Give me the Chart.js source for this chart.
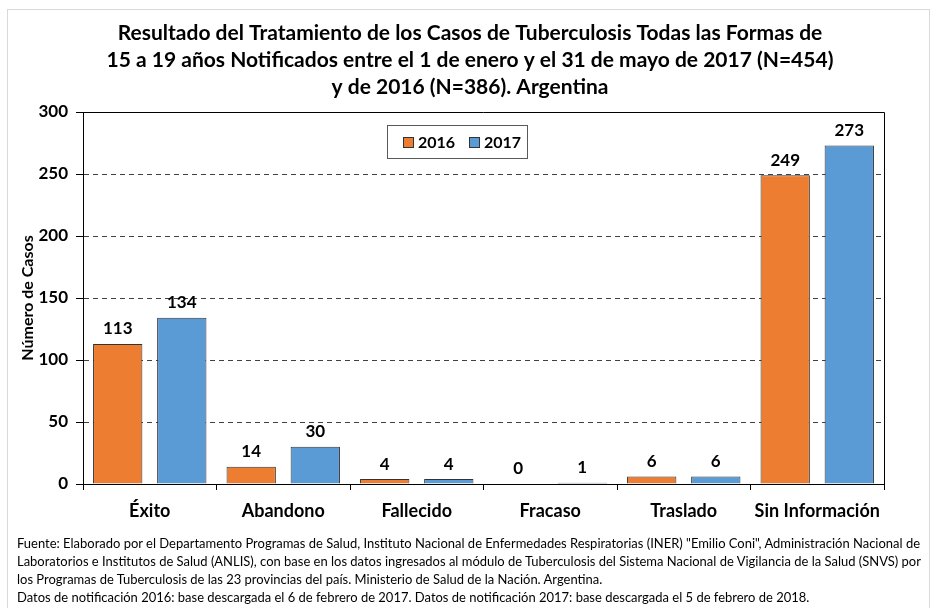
<!DOCTYPE html>
<html><head><meta charset="utf-8">
<script src="https://cdn.jsdelivr.net/npm/chart.js@4"></script>
<style>
html,body{margin:0;padding:0;background:#fff;}
#wrap{position:relative;width:940px;height:608px;overflow:hidden;font-family:Lato,"Open Sans",sans-serif;}
#frame{position:absolute;left:7px;top:9px;width:923px;height:640px;border:1px solid #d9d9d9;box-sizing:border-box;}
#c{position:absolute;left:0;top:0;}
#foot{position:absolute;left:17px;top:534px;font-size:13px;line-height:18px;color:#000;white-space:nowrap;transform-origin:0 0;}
</style></head>
<body><div id="wrap"><div id="frame"></div><canvas id="c" width="940" height="608"></canvas>
<div id="foot"><span id="l1">Fuente: Elaborado por el Departamento Programas de Salud, Instituto Nacional de Enfermedades Respiratorias (INER) "Emilio Coni", Administración Nacional de</span><br>Laboratorios e Institutos de Salud (ANLIS), con base en los datos ingresados al módulo de Tuberculosis del Sistema Nacional de Vigilancia de la Salud (SNVS) por<br>los Programas de Tuberculosis de las 23 provincias del país. Ministerio de Salud de la Nación. Argentina.<br>Datos de notificación 2016: base descargada el 6 de febrero de 2017. Datos de notificación 2017: base descargada el 5 de febrero de 2018.</div>
</div>
<script>
const categories = ['Éxito','Abandono','Fallecido','Fracaso','Traslado','Sin Información'];
const seriesNames = ['2016','2017'];
const values2016 = [113,14,4,0,6,249];
const values2017 = [134,30,4,1,6,273];
const yTicks = [0,50,100,150,200,250,300];
const titleLines = ['Resultado del Tratamiento de los Casos de Tuberculosis Todas las Formas de','15 a 19 años Notificados entre el 1 de enero y el 31 de mayo de 2017 (N=454)','y de 2016 (N=386). Argentina'];

const FONT = 'Lato, "Open Sans", sans-serif';

(function(){
  const l1 = document.getElementById('l1');
  const w = l1.getBoundingClientRect().width;
  const s = 903 / w;
  document.getElementById('foot').style.transform = 'scaleX(' + s + ')';
})();

const overlay = {
  id: 'overlay',
  afterDraw(chart) {
    const ctx = chart.ctx;
    const ca = chart.chartArea;
    ctx.save();
    ctx.strokeStyle = '#000'; ctx.lineWidth = 1; ctx.setLineDash([]);
    ctx.beginPath();
    ctx.moveTo(ca.left, ca.top + 0.5); ctx.lineTo(ca.right + 0.5, ca.top + 0.5); ctx.lineTo(ca.right + 0.5, ca.bottom);
    ctx.stroke();
    ctx.fillStyle = '#000';
    ctx.textAlign = 'center'; ctx.textBaseline = 'middle';
    ctx.font = 'bold 21px ' + FONT;
    titleLines.forEach((t, i) => {
      ctx.fillText(t, 470, 33 + i * 27);
    });
    ctx.font = 'bold 17px ' + FONT;
    ctx.textBaseline = 'middle';
    chart.data.datasets.forEach((ds, di) => {
      const meta = chart.getDatasetMeta(di);
      meta.data.forEach((bar, i) => {
        ctx.fillText(String(ds.data[i]), bar.x, bar.y - 15);
      });
    });
    const lx = 387, ly = 125, lw = 140, lh = 33;
    ctx.fillStyle = '#fff';
    ctx.fillRect(lx, ly, lw, lh);
    ctx.strokeStyle = '#595959';
    ctx.strokeRect(lx + 0.5, ly + 0.5, lw, lh);
    ctx.textAlign = 'left'; ctx.textBaseline = 'middle';
    ctx.font = 'bold 16px ' + FONT;
    const xs = [403, 469];
    chart.data.datasets.forEach((ds, di) => {
      ctx.fillStyle = ds.backgroundColor;
      ctx.fillRect(xs[di], 137, 10, 10);
      ctx.strokeStyle = '#333';
      ctx.strokeRect(xs[di] + 0.5, 137.5, 10, 10);
      ctx.fillStyle = '#000';
      ctx.fillText(ds.label, xs[di] + 15, 142.5);
    });
    ctx.restore();
  }
};

new Chart(document.getElementById('c'), {
  type: 'bar',
  data: {
    labels: categories,
    datasets: [
      {label: seriesNames[0], data: values2016, backgroundColor: '#ED7D31', borderColor: '#333', borderWidth: 1},
      {label: seriesNames[1], data: values2017, backgroundColor: '#5B9BD5', borderColor: '#333', borderWidth: 1}
    ]
  },
  options: {
    responsive: false,
    animation: false,
    events: [],
    categoryPercentage: 0.96,
    barPercentage: 0.77,
    layout: {padding: {left: 0, right: 56, top: 112, bottom: 84}},
    plugins: {legend: {display: false}, tooltip: {enabled: false}, title: {display: false}},
    scales: {
      x: {
        offset: true,
        grid: {display: true, drawOnChartArea: false, color: '#000', tickLength: 6, offset: true},
        border: {color: '#000', width: 1},
        ticks: {color: '#000', font: {family: FONT, size: 18, weight: 'bold'}, padding: 10, maxRotation: 0, autoSkip: false},
        afterFit(s) { s.height = 40; }
      },
      y: {
        min: 0, max: 300,
        afterBuildTicks(s) { s.ticks = yTicks.map(v => ({value: v})); },
        grid: {color: (c) => (c.tick && (c.tick.value === 0 || c.tick.value === 300)) ? 'rgba(0,0,0,0)' : '#404040', tickColor: '#000', tickLength: 7, tickBorderDash: [], lineWidth: 1},
        border: {color: '#000', width: 1, dash: [5, 4]},
        ticks: {color: '#000', font: {family: FONT, size: 17, weight: 'bold'}, padding: 8},
        title: {display: true, text: 'Número de Casos', color: '#000', font: {family: FONT, size: 16, weight: 'bold'}, padding: {top: 18, bottom: 0}},
        afterFit(s) { s.width = 83; }
      }
    }
  },
  plugins: [overlay]
});
</script></body></html>
